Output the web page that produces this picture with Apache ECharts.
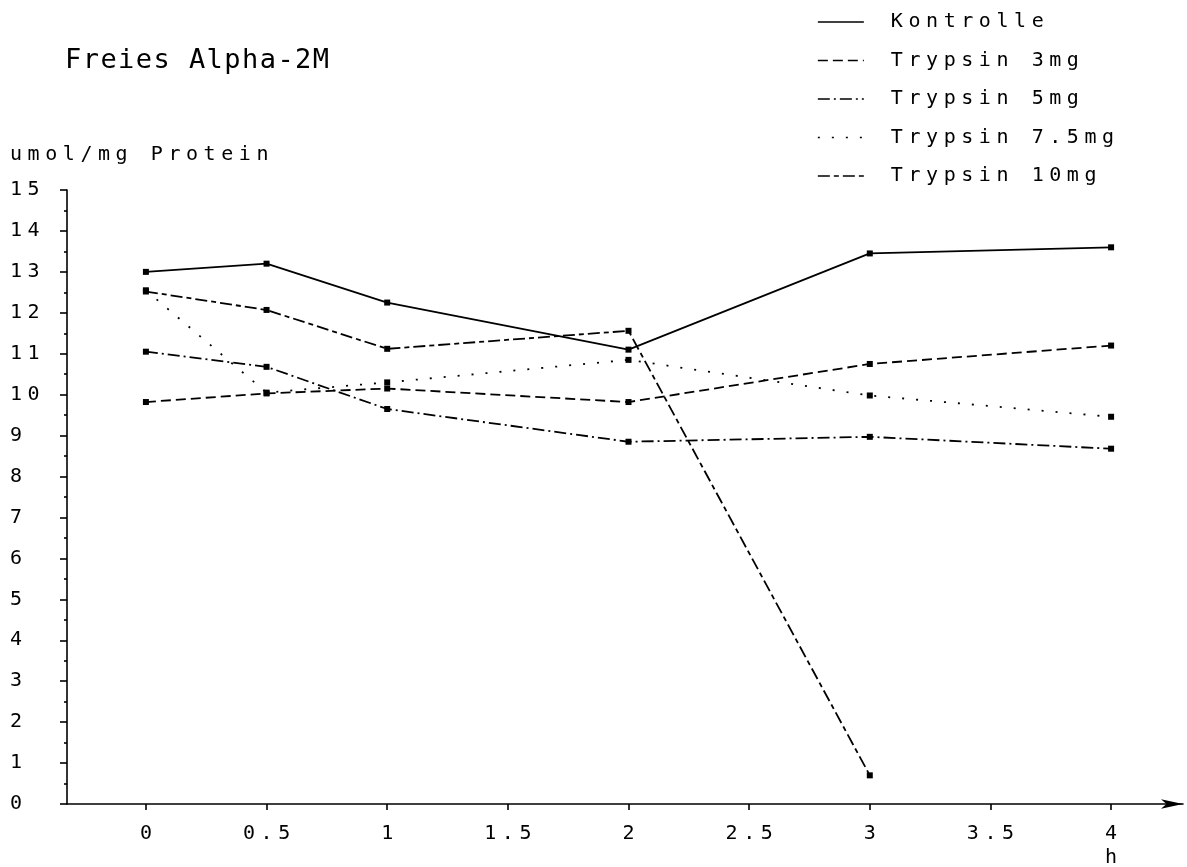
<!DOCTYPE html>
<html>
<head>
<meta charset="utf-8">
<title>Freies Alpha-2M</title>
<script src="https://cdn.jsdelivr.net/npm/echarts@6/dist/echarts.min.js"></script>
<style>
  html, body { margin: 0; padding: 0; background: #fff; }
  #chart { width: 1187px; height: 867px; }
</style>
</head>
<body>
<div id="chart"></div>
<script>
// Sampling times (h)
const hours = [0, 0.5, 1, 2, 3, 4];

// Free alpha-2M, umol/mg protein
const kontrolle = [13.0, 13.2, 12.25, 11.1, 13.45, 13.6];
const trypsin3 = [9.82, 10.03, 10.15, 9.82, 10.75, 11.2];
const trypsin5 = [11.05, 10.68, 9.65, 8.85, 8.97, 8.68];
const trypsin75 = [12.55, 10.05, 10.3, 10.85, 9.98, 9.46];
const trypsin10 = [12.52, 12.07, 11.12, 11.56, 0.7, null];

const seriesNames = ['Kontrolle', 'Trypsin 3mg', 'Trypsin 5mg', 'Trypsin 7.5mg', 'Trypsin 10mg'];

// Axis ticks
const xTickValues = [0, 0.5, 1, 1.5, 2, 2.5, 3, 3.5, 4];
const xTickLabels = ['0', '0.5', '1', '1.5', '2', '2.5', '3', '3.5', '4'];
const yTickLabels = ['0','1','2','3','4','5','6','7','8','9','10','11','12','13','14','15'];

const titleText = 'Freies Alpha-2M';
const yUnitText = 'umol/mg Protein';
const xUnitText = 'h';

// Plotter-style lettering: every character sits in a fixed-width cell
const FONT = 'DejaVu Sans Mono';
function spaced(str, key) {
  return str.split('').map(function (ch) { return '{' + key + '|' + ch + '}'; }).join('');
}
const cell = { width: 17.6, fontSize: 20, fontFamily: FONT, fontWeight: 'normal', color: '#000', lineHeight: 20 };
const bigCell = { width: 17.7, fontSize: 27, fontFamily: FONT, fontWeight: 'normal', color: '#000', lineHeight: 30 };

const lineStyles = [
  'solid',
  [10, 5],
  [12, 4, 2, 4],
  [2, 12],
  [12, 4, 5, 4]
];
const seriesValues = [kontrolle, trypsin3, trypsin5, trypsin75, trypsin10];

function pairs(values) {
  const out = [];
  hours.forEach(function (h, i) {
    if (values[i] != null) out.push([h, values[i]]);
  });
  return out;
}

const chart = echarts.init(document.getElementById('chart'), null, { renderer: 'canvas' });

chart.setOption({
  animation: false,
  backgroundColor: '#fff',
  title: {
    text: spaced(titleText, 'c'),
    left: 65,
    top: 46,
    padding: 0,
    textStyle: { fontWeight: 'normal', rich: { c: bigCell } }
  },
  legend: {
    orient: 'vertical',
    left: 817,
    top: 12,
    padding: 0,
    itemWidth: 46,
    itemHeight: 14,
    itemGap: 18.5,
    data: seriesNames,
    itemStyle: { opacity: 0 },
    lineStyle: { width: 1.7 },
    formatter: function (name) { return '{g| }' + spaced(name, 'c'); },
    textStyle: { rich: { c: cell, g: { width: 22, fontSize: 20, lineHeight: 20 } } }
  },
  grid: {
    left: 67,
    right: 4,
    top: 190,
    bottom: 63,
    containLabel: false,
    outerBoundsMode: 'none'
  },
  xAxis: {
    type: 'value',
    min: -0.327,
    max: 4.298,
    splitLine: { show: false },
    axisLine: {
      show: true,
      onZero: false,
      symbol: ['none', 'arrow'],
      symbolSize: [7, 22],
      lineStyle: { color: '#000', width: 1.6 }
    },
    axisTick: {
      show: true,
      customValues: xTickValues,
      length: 6,
      lineStyle: { color: '#000', width: 1.6 }
    },
    axisLabel: {
      customValues: xTickValues,
      margin: 20,
      formatter: function (v) {
        const i = xTickValues.indexOf(v);
        return spaced(i >= 0 ? xTickLabels[i] : String(v), 'c');
      },
      rich: { c: cell }
    }
  },
  yAxis: {
    type: 'value',
    min: 0,
    max: 15,
    interval: 1,
    splitLine: { show: false },
    axisLine: { show: true, onZero: false, lineStyle: { color: '#000', width: 1.6 } },
    axisTick: { show: true, length: 7, lineStyle: { color: '#000', width: 1.6 } },
    minorTick: { show: true, splitNumber: 2, length: 3, lineStyle: { color: '#000', width: 1.6 } },
    axisLabel: {
      align: 'left',
      margin: 57,
      formatter: function (v) { return spaced(yTickLabels[Math.round(v)], 'c'); },
      rich: { c: cell }
    }
  },
  graphic: [
    {
      type: 'text',
      left: 10,
      top: 145,
      style: { text: spaced(yUnitText, 'c'), rich: { c: cell } }
    },
    {
      type: 'text',
      left: 1105,
      top: 848,
      style: { text: spaced(xUnitText, 'c'), rich: { c: cell } }
    }
  ],
  series: seriesNames.map(function (name, k) {
    return {
      name: name,
      type: 'line',
      data: pairs(seriesValues[k]),
      symbol: 'rect',
      symbolSize: 6,
      showAllSymbol: true,
      itemStyle: { color: '#000' },
      lineStyle: { color: '#000', width: 1.8, type: lineStyles[k] },
      emphasis: { disabled: true }
    };
  })
});
</script>
</body>
</html>
